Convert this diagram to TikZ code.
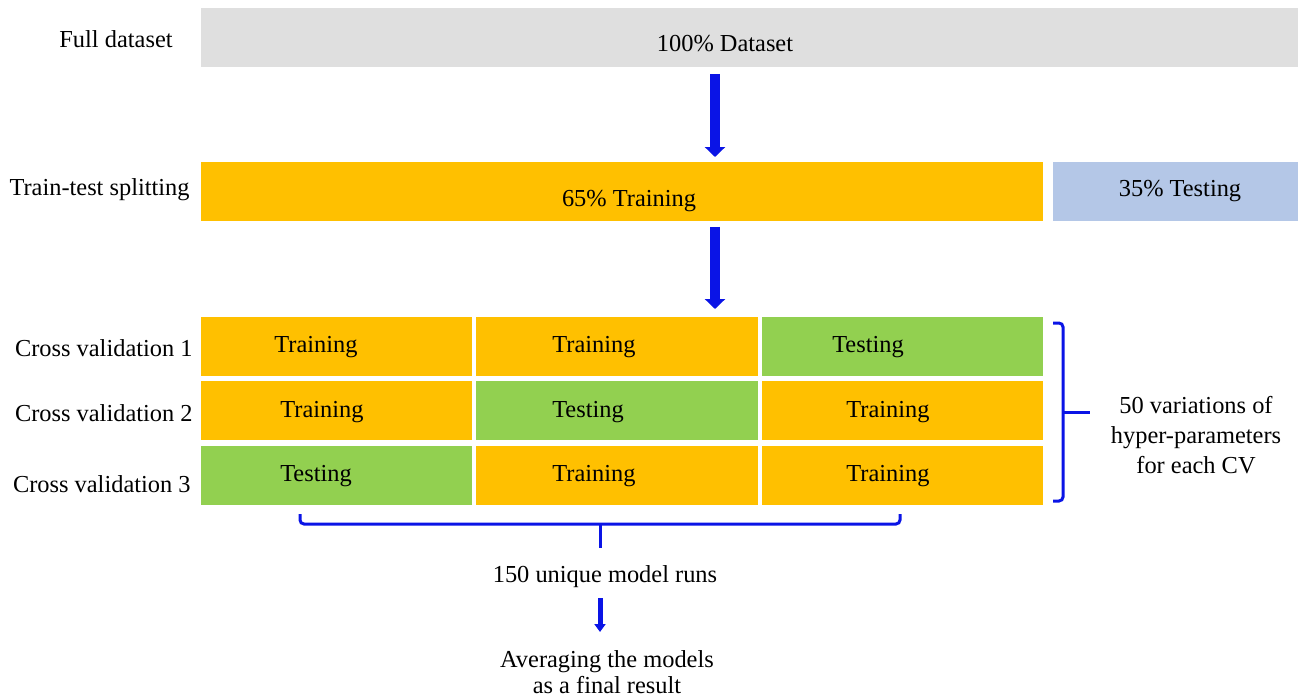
\documentclass[tikz,border=0pt]{standalone}
\usepackage{fontspec}
\setmainfont{Liberation Serif}
\newfontfamily\figfont{Liberation Serif}
\usetikzlibrary{arrows.meta}
\definecolor{greybar}{HTML}{DFDFDF}
\definecolor{trainbar}{HTML}{FFC000}
\definecolor{testbar}{HTML}{92D050}
\definecolor{holdout}{HTML}{B4C7E7}
\definecolor{flowblue}{HTML}{0A14E6}
\tikzset{
  bar/.style={draw=none, inner sep=0pt, anchor=north west, minimum height=29.5pt},
  rowlabel/.style={anchor=east, inner sep=0pt},
  celltext/.style={inner sep=0pt},
  bigarrow/.style={flowblue, line width=5pt, -{Triangle[width=10pt,length=5pt]}},
  smallarrow/.style={flowblue, line width=2.5pt, -{Triangle[width=5.5pt,length=4pt]}},
  brace/.style={flowblue, line width=1.5pt, rounded corners=2pt}
}
\begin{document}
\begin{tikzpicture}[x=0.5pt, y=-0.5pt, font=\figfont\fontsize{12.2}{15}\selectfont]
\useasboundingbox (0,0) rectangle (1308,697);

% full dataset
\node[bar, fill=greybar, minimum width=548.5pt] (full) at (201,8) {};
\node[celltext] at (725,44) {100\% Dataset};
\node[rowlabel] at (173,39) {Full dataset};

% train-test split
\node[bar, fill=trainbar, minimum width=421pt] (train) at (201,162) {};
\node[celltext] at (629,201) {65\% Training};
\node[bar, fill=holdout, minimum width=122.5pt] (hold) at (1053,162) {};
\node[celltext] at (1180,191) {35\% Testing};
\node[rowlabel] at (190,190) {Train-test splitting};

% cross-validation grid
\node[bar, fill=trainbar, minimum width=135.5pt] (c11) at (201,317) {};
\node[bar, fill=trainbar, minimum width=141pt]   (c12) at (476,317) {};
\node[bar, fill=testbar,  minimum width=140.5pt] (c13) at (762,317) {};
\node[bar, fill=trainbar, minimum width=135.5pt] (c21) at (201,381) {};
\node[bar, fill=testbar,  minimum width=141pt]   (c22) at (476,381) {};
\node[bar, fill=trainbar, minimum width=140.5pt] (c23) at (762,381) {};
\node[bar, fill=testbar,  minimum width=135.5pt] (c31) at (201,446) {};
\node[bar, fill=trainbar, minimum width=141pt]   (c32) at (476,446) {};
\node[bar, fill=trainbar, minimum width=140.5pt] (c33) at (762,446) {};

\node[celltext] at (316,347) {Training};
\node[celltext] at (594,347) {Training};
\node[celltext] at (868,347) {Testing};
\node[celltext] at (322,412) {Training};
\node[celltext] at (588,412) {Testing};
\node[celltext] at (888,412) {Training};
\node[celltext] at (316,476) {Testing};
\node[celltext] at (594,476) {Training};
\node[celltext] at (888,476) {Training};

\node[rowlabel] at (193,348) {Cross validation 1};
\node[rowlabel] at (193,413) {Cross validation 2};
\node[rowlabel] at (191,484) {Cross validation 3};

% flow arrows
\coordinate (ax) at (715,0);
\draw[bigarrow, shorten <=3pt, shorten >=2.5pt] (ax |- full.south) -- (ax |- train.north);
\draw[bigarrow, shorten <=2.5pt, shorten >=4pt] (ax |- train.south) -- (ax |- c12.north);

% bracket over the three folds
\draw[brace] (1053,323) -- (1063,323) -- (1063,501) -- (1053,501);
\draw[brace] (1063,412) -- (1090,412);
\node[celltext, align=center] (hyper) at (1196,435)
  {50 variations of\\hyper-parameters\\for each CV};

% bracket under the grid
\draw[brace] (300,514) -- (300,524) -- (900,524) -- (900,514);
\draw[brace] (600,524) -- (600,548);
\node[celltext] (runs) at (605,577) {150 unique model runs};

\coordinate (a3s) at (600,598);
\coordinate (a3e) at (600,632);
\draw[smallarrow] (a3s) -- (a3e);
\node[celltext, align=center, font=\figfont\fontsize{12.2}{13}\selectfont] (avg) at (607,672)
  {Averaging the models\\as a final result};
\end{tikzpicture}
\end{document}
